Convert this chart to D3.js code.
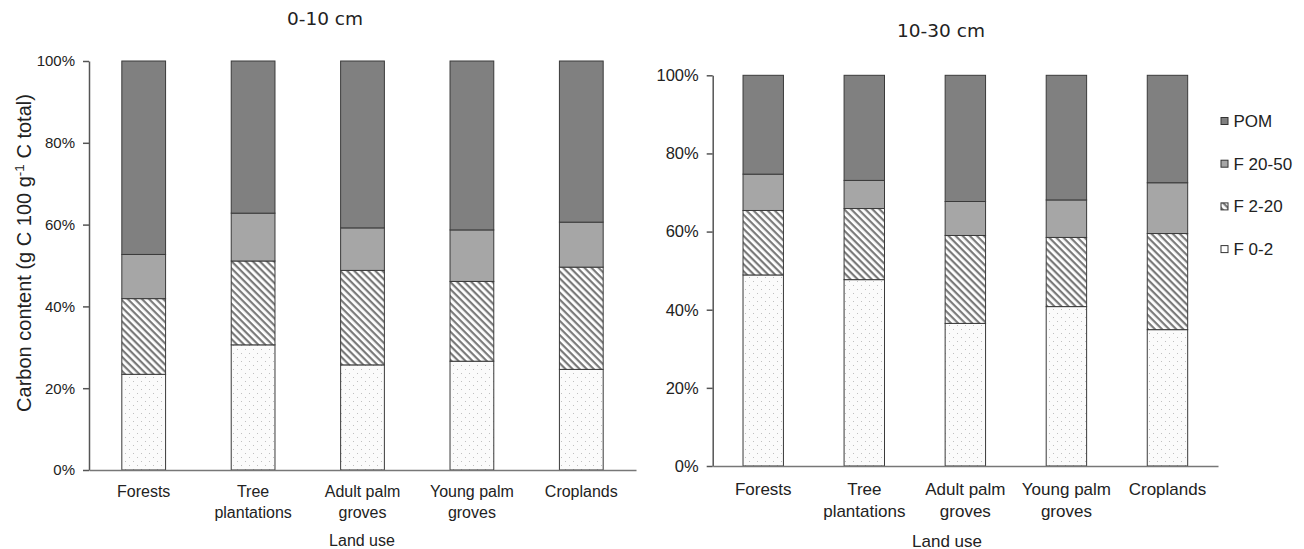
<!DOCTYPE html>
<html><head><meta charset="utf-8">
<script src="https://cdn.jsdelivr.net/npm/d3@7"></script>
<style>
body{margin:0;background:#fff;}
svg{display:block;font-family:"Liberation Sans",Arial,sans-serif;}
</style></head>
<body><svg id="c" width="1304" height="549"></svg>
<script>
const categories = ["Forests","Tree plantations","Adult palm groves","Young palm groves","Croplands"];
const categoryLines = [["Forests"],["Tree","plantations"],["Adult palm","groves"],["Young palm","groves"],["Croplands"]];
const fractions = ["F 0-2","F 2-20","F 20-50","POM"];
const yTicks = [0,20,40,60,80,100];

// 0-10 cm (% of total C)
const top_F02   = [23.4, 30.6, 25.7, 26.6, 24.6];
const top_F220  = [18.5, 20.5, 23.1, 19.5, 25.0];
const top_F2050 = [10.8, 11.7, 10.4, 12.6, 11.0];
const top_POM   = [47.3, 37.2, 40.8, 41.3, 39.4];
// 10-30 cm
const sub_F02   = [48.9, 47.7, 36.5, 40.8, 34.9];
const sub_F220  = [16.5, 18.2, 22.5, 17.7, 24.6];
const sub_F2050 = [ 9.3,  7.2,  8.7,  9.6, 13.0];
const sub_POM   = [25.3, 26.9, 32.3, 31.9, 27.5];

const svg = d3.select("#c");
const defs = svg.append("defs");
// hatch pattern
const hp = defs.append("pattern").attr("id","hatch").attr("patternUnits","userSpaceOnUse")
  .attr("width",5).attr("height",5).attr("patternTransform","rotate(45)");
hp.append("rect").attr("width",5).attr("height",5).attr("fill","#fff");
hp.append("rect").attr("x",0).attr("y",0).attr("width",5).attr("height",2.2).attr("fill","#7a7a7a");
// dots pattern
const dp = defs.append("pattern").attr("id","dots").attr("patternUnits","userSpaceOnUse")
  .attr("width",8).attr("height",8);
dp.append("rect").attr("width",8).attr("height",8).attr("fill","#fbfbfb");
dp.append("rect").attr("x",1).attr("y",1).attr("width",1).attr("height",1).attr("fill","#c0c0c0");
dp.append("rect").attr("x",5).attr("y",5).attr("width",1).attr("height",1).attr("fill","#c0c0c0");

const fills = {"F 0-2":"url(#dots)","F 2-20":"url(#hatch)","F 20-50":"#a6a6a6","POM":"#808080"};

function panel(cfg){
  const rows = categories.map((c,i)=>({cat:c,"F 0-2":cfg.v[0][i],"F 2-20":cfg.v[1][i],"F 20-50":cfg.v[2][i],"POM":cfg.v[3][i]}));
  const series = d3.stack().keys(fractions)(rows);
  const x = d3.scaleBand().domain(categories).range([cfg.x0,cfg.x1]).paddingInner(0.6).paddingOuter(0.3);
  const y = d3.scaleLinear().domain([0,100]).range([cfg.y0,cfg.y1]);
  const g = svg.append("g");
  g.selectAll("g.s").data(series).join("g").attr("class","s")
    .attr("fill",d=>fills[d.key])
    .selectAll("rect").data(d=>d).join("rect")
    .attr("x",d=>x(d.data.cat)).attr("width",x.bandwidth())
    .attr("y",d=>y(d[1])).attr("height",d=>y(d[0])-y(d[1]))
    .attr("stroke","#3a3a3a").attr("stroke-width",1);
  // y axis
  const ya = g.append("g").attr("transform",`translate(${cfg.x0},0)`)
    .call(d3.axisLeft(y).tickValues(yTicks).tickFormat(d=>d+"%").tickSize(6).tickSizeOuter(0));
  ya.select(".domain").attr("stroke","#555").attr("stroke-width",1.5);
  ya.selectAll(".tick line").attr("stroke","#555").attr("stroke-width",1.5);
  ya.selectAll(".tick text").attr("font-size",cfg.fsTick).attr("fill","#222")
    .attr("font-family","Liberation Sans, Arial, sans-serif").attr("x",-cfg.tickPad);
  // x axis
  const xa = g.append("g").attr("transform",`translate(0,${cfg.y0})`)
    .call(d3.axisBottom(x).tickSize(0).tickSizeOuter(0));
  xa.select(".domain").attr("stroke","#777").attr("stroke-width",1.5);
  xa.selectAll(".tick text").each(function(d,i){
    const t = d3.select(this).text(null).attr("font-size",cfg.fsCat).attr("fill","#222")
      .attr("font-family","Liberation Sans, Arial, sans-serif").attr("y",0).attr("dy",null);
    categoryLines[i].forEach((ln,j)=>t.append("tspan").attr("x",0).attr("y",cfg.catY+j*cfg.catLH).text(ln));
  });
  // axis title
  g.append("text").attr("x",cfg.xtX).attr("y",cfg.xtY).attr("text-anchor","middle")
    .attr("font-size",cfg.fsCat).attr("fill","#222").text("Land use");
  // chart title
  g.append("text").attr("x",cfg.tX).attr("y",cfg.tY).attr("text-anchor","middle")
    .attr("font-family","DejaVu Sans, Verdana, sans-serif").attr("font-size",cfg.fsTitle).attr("fill","#222").text(cfg.title);
  return {x,y};
}

panel({v:[top_F02,top_F220,top_F2050,top_POM], x0:89, x1:636, y0:470, y1:61,
  fsTick:15, tickPad:14, fsCat:16, catY:27, catLH:21, xtX:362, xtY:546,
  tX:325, tY:25, fsTitle:18.5, title:"0-10 cm"});
panel({v:[sub_F02,sub_F220,sub_F2050,sub_POM], x0:712.7, x1:1218, y0:466, y1:75.3,
  fsTick:16.5, tickPad:14, fsCat:17, catY:29, catLH:21.5, xtX:947, xtY:546.5,
  tX:941, tY:37, fsTitle:18.5, title:"10-30 cm"});

// y-axis title
const yt = svg.append("text").attr("transform","translate(31,253) rotate(-90)")
  .attr("text-anchor","middle").attr("font-size",20).attr("fill","#222");
yt.append("tspan").text("Carbon content (g C 100 g");
yt.append("tspan").attr("font-size",13.5).attr("dy",-7.5).text("-1");
yt.append("tspan").attr("dy",7.5).text(" C total)");

// legend
const legendOrder = ["POM","F 20-50","F 2-20","F 0-2"];
const lg = svg.append("g").selectAll("g").data(legendOrder).join("g")
  .attr("transform",(d,i)=>`translate(1221,${121+i*42.7})`);
lg.append("rect").attr("x",0).attr("y",-3.5).attr("width",7).attr("height",7)
  .attr("fill",d=>d==="F 0-2"?"#fff":fills[d]).attr("stroke","#333").attr("stroke-width",1);
lg.append("text").attr("x",12.5).attr("y",6).attr("font-size",17).attr("fill","#222").text(d=>d);
</script></body></html>
